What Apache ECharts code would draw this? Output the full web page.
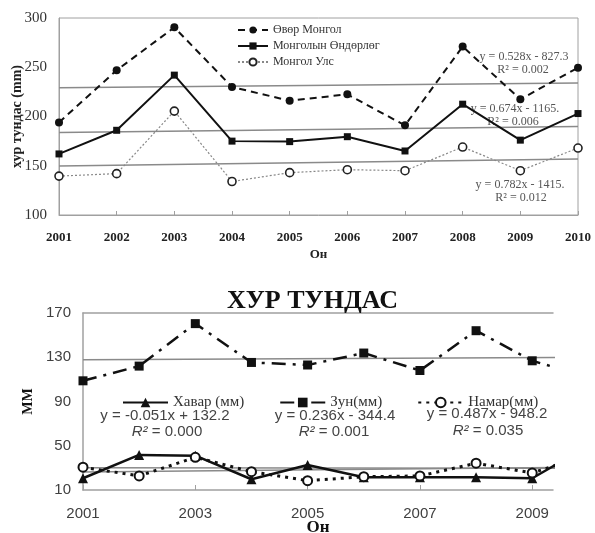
<!DOCTYPE html>
<html><head><meta charset="utf-8">
<script src="https://cdn.jsdelivr.net/npm/echarts@6/dist/echarts.min.js"></script>
<style>html,body{margin:0;padding:0;background:#fff}#c{width:595px;height:533px}</style>
</head><body><div id="c"></div>
<script>
// Annual precipitation by region, 2001-2010 (mm)
const years = [2001, 2002, 2003, 2004, 2005, 2006, 2007, 2008, 2009, 2010];
const ovorMongol = [194, 247, 290.5, 230, 216, 222.5, 191, 271, 217.5, 249.5];
const mongolynOndorlog = [162, 186, 242, 175, 174.5, 179.5, 165, 212.5, 176, 203];
const mongolUls = [139.5, 142, 205.5, 134, 143, 146, 145, 169, 145, 168];
// linear trend coefficients [slope, intercept] as printed on the chart
const trendOvor = [0.528, -827.3];
const trendOndorlog = [0.674, -1165];
const trendUls = [0.782, -1415];
const topYTicks = [100, 150, 200, 250, 300];

// Seasonal precipitation (mm)
const khavar = [20.6, 41.7, 41, 19.7, 32.6, 21.5, 21.5, 21.5, 20.6, 50];
const zun = [108.7, 122, 160.4, 125.3, 123, 133.8, 118, 154, 126.8, 112];
const namar = [30.6, 22.7, 39.5, 26.6, 18.4, 22, 22.7, 34.2, 25.4, 42];
const trendKhavar = [-0.051, 132.2];
const trendZun = [0.236, -344.4];
const trendNamar = [0.487, -948.2];
const seasonYTicks = [10, 50, 90, 130, 170];
const seasonXTicks = [2001, 2003, 2005, 2007, 2009];

const pairs = (ys) => years.map((x, i) => [x, ys[i]]);
const trendLine = (c) => [years[0], years[years.length - 1]].map(x => [x, c[0] * x + c[1]]);
const plain = (v) => String(v);

const SERIF = '"Liberation Serif", "DejaVu Serif", serif';
const SANS = '"Liberation Sans", Arial, sans-serif';
const AXIS_GRAY = '#a0a0a0';
const TREND = { color: '#8a8a8a', width: 1.5 };

const chart = echarts.init(document.getElementById('c'));

function trendSeries(c, xi, yi) {
  return { type: 'line', xAxisIndex: xi, yAxisIndex: yi, data: trendLine(c), symbol: 'none',
    lineStyle: TREND, z: 1, silent: true };
}

function txt(x, y, text, font, color, rich) {
  return { type: 'text', x: x, y: y, silent: true,
    style: { text: text, font: font, fill: color, align: 'center', verticalAlign: 'middle', rich: rich } };
}

const italicR = { i: { fontStyle: 'italic', fontSize: 15, fontFamily: SANS, fill: '#444', color: '#444' } };

chart.setOption({
  animation: false,
  backgroundColor: '#fff',
  title: {
    text: 'ХУР ТУНДАС', left: 222, top: 283,
    textStyle: { fontFamily: SERIF, fontSize: 26, fontWeight: 'bold', color: '#111' }
  },
  grid: [
    { left: 59, top: 18, width: 519, height: 197, show: true, borderColor: AXIS_GRAY, borderWidth: 1,
      containLabel: false, outerBoundsMode: 'none' },
    { left: 83, top: 313, width: 470, height: 177, containLabel: false, outerBoundsMode: 'none' }
  ],
  legend: [
    { data: ['Өвөр Монгол', 'Монголын Өндөрлөг', 'Монгол Улс'], orient: 'vertical', left: 237, top: 24,
      itemWidth: 30, itemHeight: 9, itemGap: 4, padding: 0,
      textStyle: { fontFamily: SERIF, fontSize: 12, color: '#333' } },
    { data: ['Хавар (мм)', 'Зун(мм)', 'Намар(мм)'], orient: 'horizontal', left: 122, top: 395,
      itemWidth: 45, itemHeight: 12, itemGap: 35, padding: 0,
      textStyle: { fontFamily: SERIF, fontSize: 15, color: '#333' } }
  ],
  xAxis: [
    { type: 'value', gridIndex: 0, min: 2001, max: 2010, interval: 1,
      name: 'Он', nameLocation: 'middle', nameGap: 33, nameMoveOverlap: false,
      nameTextStyle: { fontFamily: SERIF, fontSize: 13, fontWeight: 'bold', color: '#222' },
      axisLine: { lineStyle: { color: AXIS_GRAY } },
      axisTick: { inside: true, length: 4, lineStyle: { color: AXIS_GRAY } },
      axisLabel: { formatter: plain, fontFamily: SERIF, fontSize: 13, fontWeight: 'bold', color: '#222', margin: 16 },
      splitLine: { show: false } },
    { type: 'value', gridIndex: 1, min: 2001, max: 2009.37, interval: 1,
      name: 'Он', nameLocation: 'middle', nameGap: 29, nameMoveOverlap: false,
      nameTextStyle: { fontFamily: SERIF, fontSize: 17, fontWeight: 'bold', color: '#111' },
      axisLine: { lineStyle: { color: AXIS_GRAY, width: 1.5 } },
      axisTick: { inside: true, length: 5, customValues: seasonXTicks, lineStyle: { color: AXIS_GRAY } },
      axisLabel: { customValues: seasonXTicks, formatter: plain, fontFamily: SANS, fontSize: 15, color: '#404040', margin: 16 },
      splitLine: { show: false } },
    { type: 'value', gridIndex: 1, position: 'top', min: 2001, max: 2009.37,
      axisLine: { lineStyle: { color: AXIS_GRAY, width: 1.5 } },
      axisTick: { show: false }, axisLabel: { show: false }, splitLine: { show: false } }
  ],
  yAxis: [
    { type: 'value', gridIndex: 0, min: 100, max: 300, interval: 50,
      name: 'хур тундас (mm)', nameLocation: 'middle', nameGap: 35, nameRotate: 90, nameMoveOverlap: false,
      nameTextStyle: { fontFamily: SERIF, fontSize: 14, fontWeight: 'bold', color: '#222' },
      axisLine: { show: true, lineStyle: { color: AXIS_GRAY } },
      axisTick: { show: false },
      axisLabel: { fontFamily: SERIF, fontSize: 15, color: '#333', margin: 12 },
      splitLine: { show: false } },
    { type: 'value', gridIndex: 1, min: 10, max: 170,
      name: 'MM', nameLocation: 'middle', nameGap: 48, nameRotate: 90, nameMoveOverlap: false,
      nameTextStyle: { fontFamily: SERIF, fontSize: 14, fontWeight: 'bold', color: '#111' },
      axisLine: { show: true, lineStyle: { color: AXIS_GRAY, width: 1.5 } },
      axisTick: { show: false },
      axisLabel: { customValues: seasonYTicks, fontFamily: SANS, fontSize: 15, color: '#404040', margin: 12 },
      splitLine: { show: false } }
  ],
  series: [
    trendSeries(trendOvor, 0, 0),
    trendSeries(trendOndorlog, 0, 0),
    trendSeries(trendUls, 0, 0),
    { name: 'Өвөр Монгол', type: 'line', xAxisIndex: 0, yAxisIndex: 0, data: pairs(ovorMongol),
      symbol: 'circle', symbolSize: 8, z: 3,
      lineStyle: { color: '#111', width: 2, type: [7, 5] }, itemStyle: { color: '#111' } },
    { name: 'Монголын Өндөрлөг', type: 'line', xAxisIndex: 0, yAxisIndex: 0, data: pairs(mongolynOndorlog),
      symbol: 'rect', symbolSize: 7, z: 3,
      lineStyle: { color: '#111', width: 2 }, itemStyle: { color: '#111' } },
    { name: 'Монгол Улс', type: 'line', xAxisIndex: 0, yAxisIndex: 0, data: pairs(mongolUls),
      symbol: 'circle', symbolSize: 8, z: 3,
      lineStyle: { color: '#888', width: 1.2, type: [2, 2] },
      itemStyle: { color: '#fff', borderColor: '#222', borderWidth: 1.6 } },

    trendSeries(trendKhavar, 1, 1),
    trendSeries(trendZun, 1, 1),
    trendSeries(trendNamar, 1, 1),
    { name: 'Хавар (мм)', type: 'line', xAxisIndex: 1, yAxisIndex: 1, data: pairs(khavar),
      symbol: 'triangle', symbolSize: 10, z: 3,
      lineStyle: { color: '#111', width: 2.5 }, itemStyle: { color: '#111' } },
    { name: 'Зун(мм)', type: 'line', xAxisIndex: 1, yAxisIndex: 1, data: pairs(zun),
      symbol: 'rect', symbolSize: 9, z: 3,
      lineStyle: { color: '#111', width: 2.5, type: [14, 7, 3, 7] }, itemStyle: { color: '#111' } },
    { name: 'Намар(мм)', type: 'line', xAxisIndex: 1, yAxisIndex: 1, data: pairs(namar),
      symbol: 'circle', symbolSize: 9, z: 3,
      lineStyle: { color: '#111', width: 3, type: [3, 5] },
      itemStyle: { color: '#fff', borderColor: '#111', borderWidth: 2 } }
  ],
  graphic: [
    txt(524, 57, 'y = 0.528x - 827.3', '12px ' + SERIF, '#555'),
    txt(523, 69.5, 'R² = 0.002', '12px ' + SERIF, '#555'),
    txt(515, 109, 'y = 0.674x - 1165.', '12px ' + SERIF, '#555'),
    txt(513, 122, 'R² = 0.006', '12px ' + SERIF, '#555'),
    txt(520, 185, 'y = 0.782x - 1415.', '12px ' + SERIF, '#555'),
    txt(521, 197.5, 'R² = 0.012', '12px ' + SERIF, '#555'),
    txt(165, 416, 'y = -0.051x + 132.2', '15px ' + SANS, '#444'),
    txt(167, 432, '{i|R²} = 0.000', '15px ' + SANS, '#444', italicR),
    txt(335, 416, 'y = 0.236x - 344.4', '15px ' + SANS, '#444'),
    txt(334, 432, '{i|R²} = 0.001', '15px ' + SANS, '#444', italicR),
    txt(487, 414, 'y = 0.487x - 948.2', '15px ' + SANS, '#444'),
    txt(488, 431, '{i|R²} = 0.035', '15px ' + SANS, '#444', italicR)
  ]
});
</script>
</body></html>
